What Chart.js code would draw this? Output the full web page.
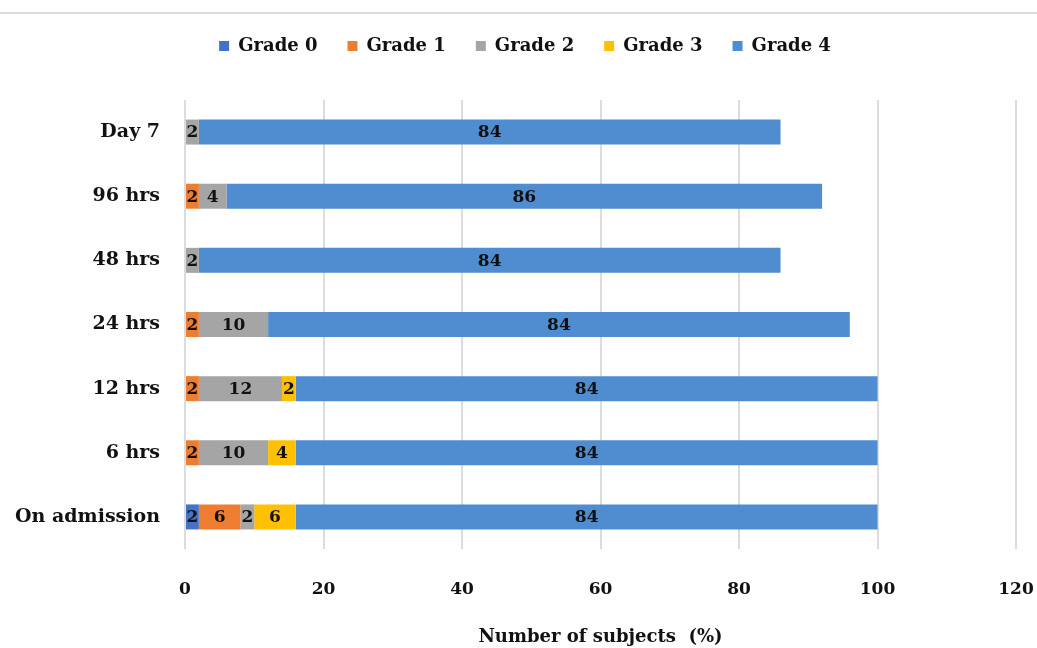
<!DOCTYPE html>
<html>
<head>
<meta charset="utf-8">
<script src="https://cdn.jsdelivr.net/npm/chart.js@4/dist/chart.umd.min.js"></script>
<style>
  html, body { margin: 0; padding: 0; background: #ffffff; }
  #wrap { width: 1037px; height: 648px; position: relative; }
</style>
</head>
<body>
<div id="wrap"><canvas id="c" width="1037" height="648"></canvas></div>
<script>
// Time points (top to bottom)
const categories = ['Day 7', '96 hrs', '48 hrs', '24 hrs', '12 hrs', '6 hrs', 'On admission'];

// Percentage of subjects in each grade at each time point
const grade0 = [null, null, null, null, null, null, 2];
const grade1 = [null, 2, null, 2, 2, 2, 6];
const grade2 = [2, 4, 2, 10, 12, 10, 2];
const grade3 = [null, null, null, null, 2, 4, 6];
const grade4 = [84, 86, 84, 84, 84, 84, 84];

const seriesNames = ['Grade 0', 'Grade 1', 'Grade 2', 'Grade 3', 'Grade 4'];
const seriesColors = ['#4472c4', '#ed7d31', '#a5a5a5', '#ffc000', '#4f8cd0'];

const xTicks = [0, 20, 40, 60, 80, 100, 120];
const xTitle = 'Number of subjects  (%)';

const FONT = '"DejaVu Serif", serif';

// Thin rule across the top of the figure
const topRule = {
  id: 'topRule',
  beforeDraw(chart) {
    const ctx = chart.ctx;
    ctx.save();
    ctx.fillStyle = '#ffffff';
    ctx.fillRect(0, 0, chart.width, chart.height);
    ctx.strokeStyle = '#dcdcdc';
    ctx.lineWidth = 2;
    ctx.beginPath();
    ctx.moveTo(0, 13);
    ctx.lineTo(chart.width, 13);
    ctx.stroke();
    ctx.restore();
  }
};

// Legend box: extra room below the keys and a slight shift to the right
const legendSpacing = {
  id: 'legendSpacing',
  beforeLayout(chart) {
    const lg = chart.legend;
    if (lg && !lg._tallFit) {
      const baseFit = lg.fit.bind(lg);
      lg.fit = function () { baseFit(); this.height = 93; };
      lg._tallFit = true;
    }
  },
  afterLayout(chart) {
    const lg = chart.legend;
    if (lg) { lg.left = 34; lg.right = 1016; }
  }
};

// Value labels centred inside each bar segment
const segmentLabels = {
  id: 'segmentLabels',
  afterDatasetsDraw(chart) {
    const ctx = chart.ctx;
    ctx.save();
    ctx.font = 'bold 17px ' + FONT;
    ctx.fillStyle = '#111111';
    ctx.textAlign = 'center';
    ctx.textBaseline = 'middle';
    chart.data.datasets.forEach((ds, di) => {
      const meta = chart.getDatasetMeta(di);
      if (meta.hidden) return;
      meta.data.forEach((bar, i) => {
        const v = ds.data[i];
        if (v === null || v === undefined) return;
        const cx = (bar.x + bar.base) / 2;
        ctx.fillText(String(v), cx, bar.y + 1);
      });
    });
    ctx.restore();
  }
};

const allSeries = [grade0, grade1, grade2, grade3, grade4];

new Chart(document.getElementById('c'), {
  type: 'bar',
  data: {
    labels: categories,
    datasets: allSeries.map((d, i) => ({
      label: seriesNames[i],
      data: d,
      backgroundColor: seriesColors[i],
      borderWidth: 0,
      barPercentage: 0.39,
      categoryPercentage: 1.0
    }))
  },
  options: {
    indexAxis: 'y',
    responsive: false,
    animation: false,
    devicePixelRatio: 1,
    layout: { padding: { top: 7, left: 0, right: 21, bottom: 0 } },
    plugins: {
      tooltip: { enabled: false },
      legend: {
        position: 'top',
        align: 'center',
        labels: {
          font: { family: FONT, size: 18, weight: 'bold' },
          color: '#111111',
          boxWidth: 10,
          boxHeight: 10,
          padding: 30
        }
      }
    },
    scales: {
      x: {
        stacked: true,
        min: 0,
        max: 120,
        afterBuildTicks(scale) {
          scale.ticks = xTicks.map(v => ({ value: v }));
        },
        afterFit(scale) {
          scale.height = 99;
          scale.paddingLeft = 0;
          scale.paddingRight = 0;
        },
        grid: { color: '#dcdcdc', lineWidth: 2, drawTicks: false },
        border: { display: false },
        ticks: {
          font: { family: FONT, size: 17, weight: 'bold' },
          color: '#111111',
          padding: 30
        },
        title: {
          display: true,
          text: xTitle,
          font: { family: FONT, size: 18, weight: 'bold' },
          color: '#111111',
          padding: { top: 20, bottom: 0 }
        }
      },
      y: {
        stacked: true,
        afterFit(scale) { scale.width = 185; },
        grid: { display: false },
        border: { display: false },
        ticks: {
          font: { family: FONT, size: 19, weight: 'bold' },
          color: '#111111',
          padding: 17
        }
      }
    }
  },
  plugins: [topRule, legendSpacing, segmentLabels]
});
</script>
</body>
</html>
